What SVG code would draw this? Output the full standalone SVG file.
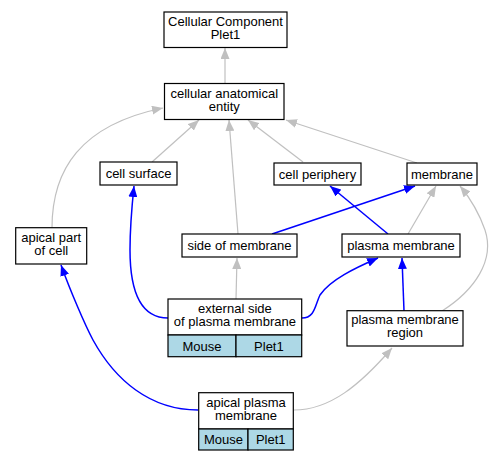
<svg xmlns="http://www.w3.org/2000/svg" width="495" height="461" viewBox="0 0 495 461">
<style>
.n{fill:#fff;stroke:#000;stroke-width:1.2}
.b{fill:#add8e6;stroke:#000;stroke-width:1.2}
text{font-family:"Liberation Sans",Arial,sans-serif;font-size:13px;text-anchor:middle;fill:#000}
.g{fill:none;stroke:#c0c0c0;stroke-width:1.2}
.u{fill:none;stroke:#0000ff;stroke-width:1.5}
</style>
<defs>
<marker id="ag" markerUnits="userSpaceOnUse" markerWidth="11" markerHeight="9" refX="11" refY="4.5" orient="auto"><path d="M0,0 L11,4.5 L0,9 z" fill="#c0c0c0"/></marker>
<marker id="ab" markerUnits="userSpaceOnUse" markerWidth="11" markerHeight="9" refX="11" refY="4.5" orient="auto"><path d="M0,0 L11,4.5 L0,9 z" fill="#0000ff"/></marker>
</defs>
<rect width="495" height="461" fill="#fff"/>
<g id="edges">
<path class="g" marker-end="url(#ag)" d="M225,83 L225,48"/>
<path class="g" marker-end="url(#ag)" d="M152,162 L199,120"/>
<path class="g" marker-end="url(#ag)" d="M238,234 L229,120"/>
<path class="g" marker-end="url(#ag)" d="M303,162 L248,120"/>
<path class="g" marker-end="url(#ag)" d="M417,163 L286,120"/>
<path class="g" marker-end="url(#ag)" d="M52,228 C52,170 80,125 163,108"/>
<path class="u" marker-end="url(#ab)" d="M168,318 C140,318 130,290 130,250 C130,225 132,205 134,186"/>
<path class="u" marker-end="url(#ab)" d="M198,410 C150,410 115,380 93,340 C85,325 70,290 61,265"/>
<path class="g" marker-end="url(#ag)" d="M236,299 L237,258"/>
<path class="u" marker-end="url(#ab)" d="M388,234 L330,186"/>
<path class="u" marker-end="url(#ab)" d="M272,234 L415,186"/>
<path class="g" marker-end="url(#ag)" d="M408,234 L436,186"/>
<path class="g" marker-end="url(#ag)" d="M442,311 C475,290 495,260 485,230 C478,210 470,198 460,186"/>
<path class="u" marker-end="url(#ab)" d="M302,318 C315,318 315,305 320,295 C330,280 355,268 378,258"/>
<path class="u" marker-end="url(#ab)" d="M404,311 L402,258"/>
<path class="g" marker-end="url(#ag)" d="M294,410 C330,410 360,385 392,348"/>
</g>
<g id="ccp1"><rect class="n" x="164" y="12" width="123" height="35.5"/><text x="225.5" y="26">Cellular Component</text><text x="225.5" y="39">Plet1</text></g>
<g id="cae"><rect class="n" x="164.5" y="83.5" width="119.5" height="36"/><text x="224.3" y="97.5">cellular anatomical</text><text x="224.3" y="110.5">entity</text></g>
<g id="cs"><rect class="n" x="100" y="162" width="77" height="23"/><text x="138.5" y="178">cell surface</text></g>
<g id="apc"><rect class="n" x="15.7" y="227.7" width="71" height="36.3"/><text x="51.2" y="242">apical part</text><text x="51.2" y="255">of cell</text></g>
<g id="som"><rect class="n" x="182" y="234" width="115" height="23"/><text x="239.5" y="250">side of membrane</text></g>
<g id="cp"><rect class="n" x="274" y="163" width="87" height="22"/><text x="317.5" y="178.5">cell periphery</text></g>
<g id="mem"><rect class="n" x="407" y="163" width="70" height="22"/><text x="442" y="178.5">membrane</text></g>
<g id="pm"><rect class="n" x="342" y="234" width="118" height="23"/><text x="401" y="250">plasma membrane</text></g>
<g id="pmr"><rect class="n" x="347" y="310.7" width="116" height="35.3"/><text x="405" y="324.4">plasma membrane</text><text x="405" y="337.4">region</text></g>
<g id="esopm"><rect class="n" x="168" y="299" width="133.7" height="36"/><rect class="b" x="168" y="335" width="68" height="21.7"/><rect class="b" x="236" y="335" width="65.7" height="21.7"/><text x="234.9" y="313">external side</text><text x="234.9" y="326">of plasma membrane</text><text x="202" y="350.5">Mouse</text><text x="268.9" y="350.5">Plet1</text></g>
<g id="apm"><rect class="n" x="198.7" y="392.7" width="94.6" height="36.3"/><rect class="b" x="198.7" y="429" width="49.3" height="21"/><rect class="b" x="248" y="429" width="45.3" height="21"/><text x="246" y="407">apical plasma</text><text x="246" y="420">membrane</text><text x="223.4" y="444">Mouse</text><text x="270.7" y="444">Plet1</text></g>
</svg>
